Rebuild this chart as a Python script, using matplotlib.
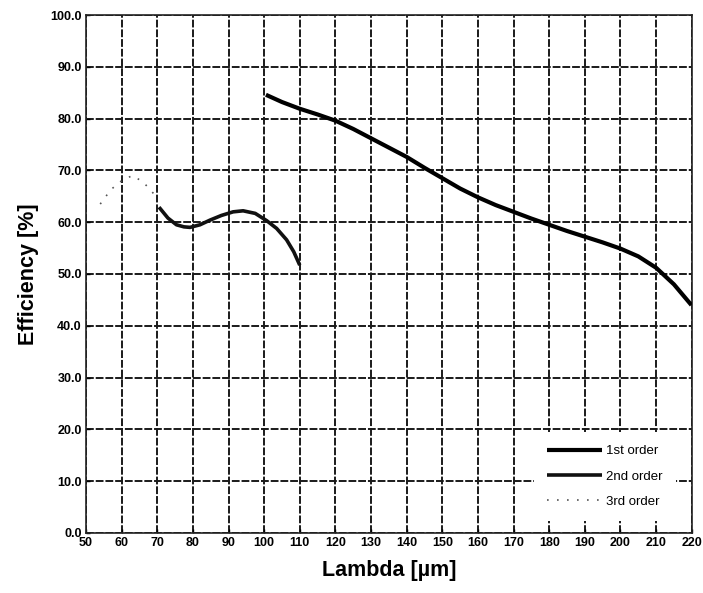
import matplotlib
matplotlib.use("Agg")
import matplotlib.pyplot as plt

plt.rcParams['font.family'] = ['Liberation Sans', 'DejaVu Sans']

# Diffraction efficiency per order
lam_1st = [100.5, 105, 110, 115, 120, 125, 130, 135, 140, 145, 150, 155, 160,
           165, 170, 175, 180, 185, 190, 195, 200, 205, 210, 215, 219.9]
eff_1st = [84.6, 83.2, 81.9, 80.8, 79.6, 78.0, 76.2, 74.4, 72.6, 70.5, 68.5, 66.5, 64.8,
           63.3, 62.0, 60.7, 59.5, 58.3, 57.2, 56.1, 54.9, 53.4, 51.2, 48.0, 44.0]

lam_2nd = [70.5, 73, 75.4, 77.5, 79.2, 82, 84.8, 88, 91.3, 94.1, 97.5, 100.7, 103.5, 106.3, 108.3, 110]
eff_2nd = [62.9, 60.8, 59.5, 59.1, 59.0, 59.5, 60.4, 61.3, 62.0, 62.2, 61.7, 60.3, 58.8, 56.6, 54.3, 51.7]

lam_3rd = [54, 57, 60, 63, 66, 69]
eff_3rd = [63.5, 66.3, 68.0, 69.0, 67.8, 65.5]

x_ticks = list(range(50, 221, 10))
y_ticks = list(range(0, 101, 10))
x_ticklabels = [str(v) for v in x_ticks]
y_ticklabels = [f"{v:.1f}" for v in y_ticks]

fig = plt.figure(figsize=(7.03, 5.93), dpi=100)
ax = fig.add_axes([0.1223, 0.1012, 0.8617, 0.8735])

ax.plot(lam_1st, eff_1st, color='black', lw=3.0, label='1st order', solid_capstyle='butt',
        solid_joinstyle='round', zorder=3)
ax.plot(lam_2nd, eff_2nd, color='#111111', lw=2.6, label='2nd order', solid_capstyle='butt',
        solid_joinstyle='round', zorder=3)
ax.plot(lam_3rd, eff_3rd, color='#555555', lw=1.2, ls=(0, (1, 5)), label='3rd order', zorder=3)

ax.set_xlim(50, 220)
ax.set_ylim(0, 100)
ax.set_xticks(x_ticks)
ax.set_xticklabels(x_ticklabels)
ax.set_yticks(y_ticks)
ax.set_yticklabels(y_ticklabels)
ax.tick_params(axis='both', labelsize=9, length=3, width=1, direction='in', pad=3)
for lbl in ax.get_xticklabels() + ax.get_yticklabels():
    lbl.set_fontweight('bold')

ax.grid(True, color='#1a1a1a', lw=1.4, ls=(0, (4, 1)))
for s in ax.spines.values():
    s.set_color('#222222')
    s.set_linewidth(1.2)
    s.set_linestyle((0, (4, 1)))

ax.set_xlabel('Lambda [µm]', fontsize=15.5, fontweight='bold', labelpad=8)
ax.set_ylabel('Efficiency [%]', fontsize=15.5, fontweight='bold', labelpad=8)

leg = ax.legend(loc='lower right', bbox_to_anchor=(0.985, 0.01), frameon=True, fontsize=9.5,
                handlelength=4.2, handletextpad=0.3, labelspacing=1.0, borderpad=1.0,
                fancybox=False, framealpha=1.0)
leg.get_frame().set_edgecolor('white')
leg.get_frame().set_linewidth(0)
leg.set_zorder(5)

fig.savefig('out.png', dpi=100)
